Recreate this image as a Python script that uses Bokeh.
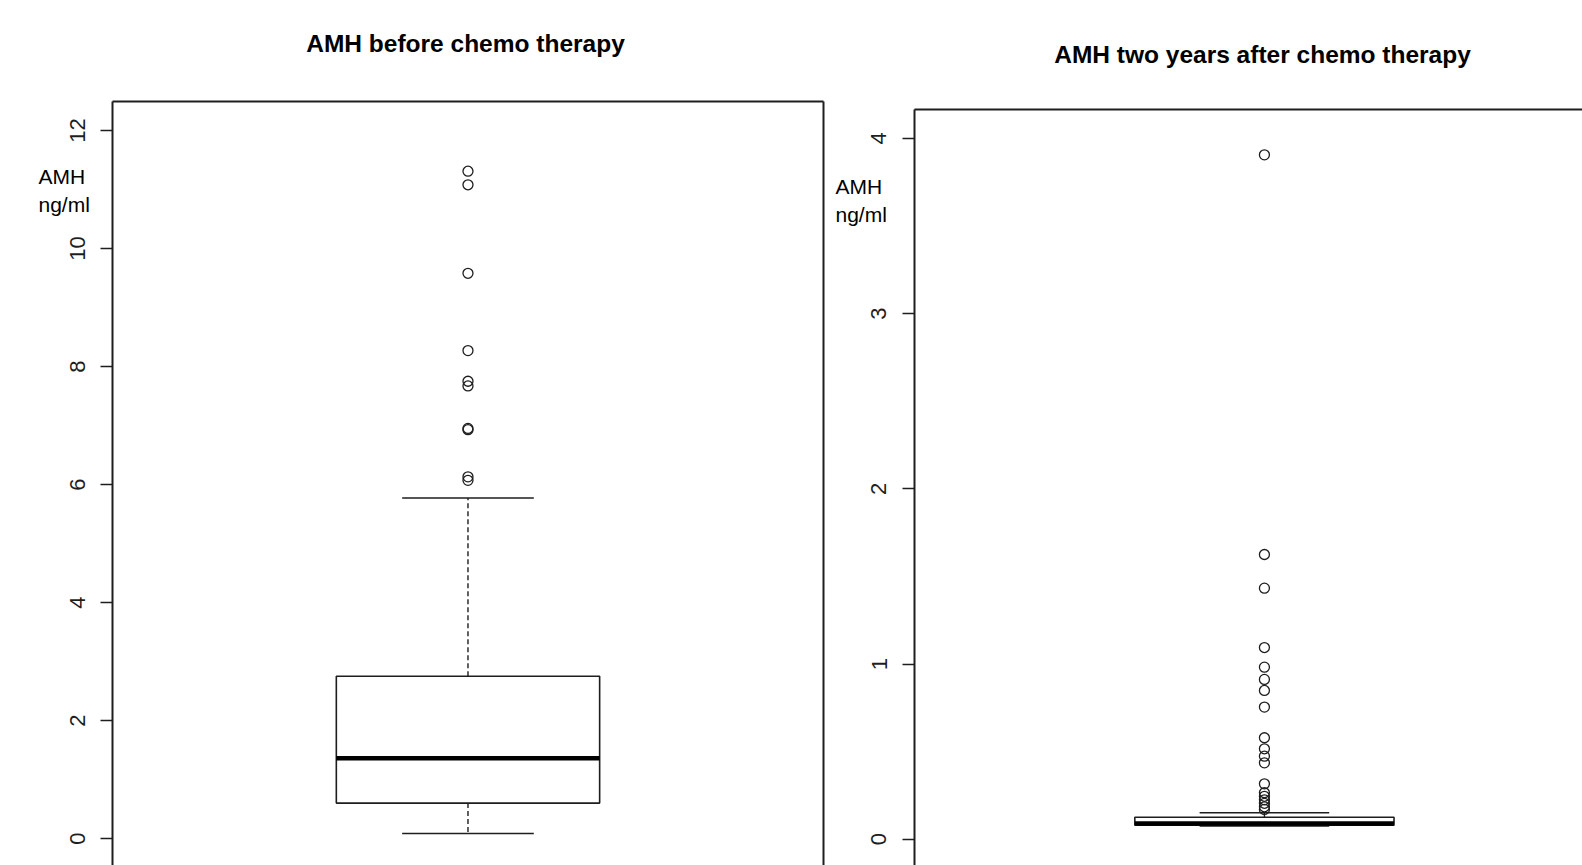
from bokeh.plotting import figure
from bokeh.models import LinearAxis, FixedTicker, Label, Range1d, ColumnDataSource
from bokeh.layouts import row
from bokeh.embed import file_html
from bokeh.resources import INLINE

# ---------------- data ----------------
titles = ["AMH before chemo therapy", "AMH two years after chemo therapy"]
y_label_lines = ["AMH", "ng/ml"]

before_ticks = [0, 2, 4, 6, 8, 10, 12]
before_stats = dict(low=0.085, q1=0.60, med=1.36, q3=2.75, high=5.77)
before_outliers = [11.31, 11.08, 9.58, 8.27, 7.75, 7.67, 6.95, 6.93, 6.13, 6.07]

after_ticks = [0, 1, 2, 3, 4]
after_stats = dict(low=0.075, q1=0.08, med=0.09, q3=0.125, high=0.151)
after_outliers = [3.906, 1.625, 1.433, 1.094, 0.982, 0.912, 0.849, 0.754,
                  0.579, 0.516, 0.474, 0.436, 0.316, 0.265, 0.245, 0.225,
                  0.205, 0.185, 0.17]

FONT = "Liberation Sans"
INK = "#1e1e1e"
PAGE_H = 865
TEXT_SHIFT = 9  # Label baseline correction (px)


def make_panel(title, stats, outliers, ticks, fig_x0, fig_w, box_left_px,
               box_right_px, box_top_px, x_scale, y_zero_px, y_scale,
               title_px, label_px):
    # pixel -> data helpers (layout only)
    def xv(px):
        return 0.46 + (px - box_left_px) / x_scale

    def yv(py):
        return (y_zero_px - py) / y_scale

    x_start, x_end = xv(fig_x0), xv(fig_x0 + fig_w)
    y_start, y_end = yv(PAGE_H), yv(0)

    p = figure(width=fig_w, height=PAGE_H, output_backend="svg", toolbar_location=None,
               x_range=Range1d(x_start, x_end), y_range=Range1d(y_start, y_end),
               x_axis_location=None, y_axis_location=None,
               min_border=0, min_border_left=0, min_border_right=0,
               min_border_top=0, min_border_bottom=0)
    p.outline_line_color = None
    p.background_fill_color = "white"
    p.border_fill_color = "white"
    p.grid.visible = False
    p.title.visible = False

    frame_l = 0.46
    frame_r = xv(box_right_px) if box_right_px is not None else x_end + 1
    frame_t = yv(box_top_px)

    ax = LinearAxis(fixed_location=frame_l, bounds=(y_start - 1, frame_t))
    ax.ticker = FixedTicker(ticks=ticks)
    ax.minor_tick_line_color = None
    ax.major_tick_out = 12
    ax.major_tick_in = 0
    ax.major_tick_line_color = INK
    ax.major_tick_line_width = 1.3
    ax.axis_line_color = INK
    ax.axis_line_width = 2
    ax.major_label_orientation = "vertical"
    ax.major_label_text_font = FONT
    ax.major_label_text_font_size = "22px"
    ax.major_label_text_color = INK
    ax.major_label_standoff = 16
    p.add_layout(ax, "left")

    top = LinearAxis(fixed_location=frame_t, bounds=(frame_l, frame_r),
                     ticker=FixedTicker(ticks=[]), minor_tick_line_color=None,
                     major_tick_line_color=None, axis_line_color=INK,
                     axis_line_width=2)
    p.add_layout(top, "above")
    if box_right_px is not None:
        rgt = LinearAxis(fixed_location=frame_r, bounds=(y_start - 1, frame_t),
                         ticker=FixedTicker(ticks=[]), minor_tick_line_color=None,
                         major_tick_line_color=None, axis_line_color=INK,
                         axis_line_width=2)
        p.add_layout(rgt, "right")

    c = 1.0
    bw = 0.4
    cw = 0.2
    src_box = ColumnDataSource(dict(left=[c - bw / 2], right=[c + bw / 2],
                                    top=[stats["q3"]], bottom=[stats["q1"]]))
    p.quad(left="left", right="right", top="top", bottom="bottom", source=src_box,
           fill_color="white", line_color=INK, line_width=1.6)
    p.segment(x0=[c, c], y0=[stats["q3"], stats["q1"]], x1=[c, c],
              y1=[stats["high"], stats["low"]], line_color=INK, line_width=1.4,
              line_dash="5 3")
    p.segment(x0=[c - cw / 2, c - cw / 2], y0=[stats["high"], stats["low"]],
              x1=[c + cw / 2, c + cw / 2], y1=[stats["high"], stats["low"]],
              line_color=INK, line_width=1.6)
    p.segment(x0=[c - bw / 2], y0=[stats["med"]], x1=[c + bw / 2], y1=[stats["med"]],
              line_color="black", line_width=4.5)
    p.scatter(x=[c] * len(outliers), y=outliers, marker="circle", size=10,
              fill_color=None, line_color=INK, line_width=1.3)

    p.add_layout(Label(x=xv(title_px[0]), y=yv(title_px[1] - TEXT_SHIFT), text=title,
                       text_font=FONT, text_font_size="24.5px", text_font_style="bold",
                       text_color="black", text_align="center",
                       text_baseline="alphabetic"))
    for i, line in enumerate(y_label_lines):
        p.add_layout(Label(x=xv(label_px[0]), y=yv(label_px[1] + 28 * i - TEXT_SHIFT),
                           text=line, text_font=FONT, text_font_size="21px",
                           text_color="black", text_align="left",
                           text_baseline="alphabetic"))
    return p


left = make_panel(titles[0], before_stats, before_outliers, before_ticks,
                  fig_x0=0, fig_w=830, box_left_px=112, box_right_px=823,
                  box_top_px=101, x_scale=658.3, y_zero_px=838, y_scale=59.0,
                  title_px=(465, 52), label_px=(38, 185))

right = make_panel(titles[1], after_stats, after_outliers, after_ticks,
                   fig_x0=830, fig_w=752, box_left_px=914, box_right_px=None,
                   box_top_px=109, x_scale=648.0, y_zero_px=838.7, y_scale=175.2,
                   title_px=(1262, 63), label_px=(835, 195))

layout = row(left, right)
open("out.html", "w").write(file_html(layout, INLINE))
